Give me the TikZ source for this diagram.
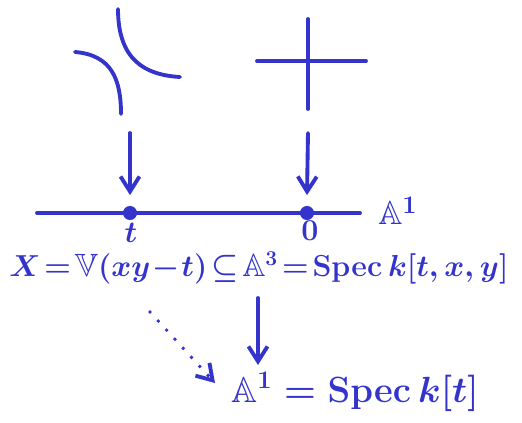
\documentclass[tikz,border=0pt]{standalone}
\usepackage{amssymb}
\usepackage{tikz}
\usetikzlibrary{arrows.meta,positioning}
\definecolor{inkblue}{RGB}{52,52,204}
\newcommand{\tightmath}{\thickmuskip=2mu\relax\medmuskip=1mu\relax}
\tikzset{
    ink/.style={
        draw=inkblue,line width=2.2pt,line cap=round,line join=round
    },
    ink text/.style={
        text=inkblue,inner sep=0pt,
        font=\fontsize{19}{22}\selectfont\boldmath
    },
    tight/.style={
        font=\fontsize{18.3}{21}\selectfont\boldmath
    },
    big/.style={
        font=\fontsize{20.5}{24}\selectfont\boldmath
    },
    ink dot/.style={
        circle,fill=inkblue,inner sep=0pt,minimum size=8pt
    },
    >={Straight Barb[length=3mm,width=3.8mm]}
}

\begin{document}
\begin{tikzpicture}[x=0.02cm,y=-0.02cm]
\useasboundingbox (0,0) rectangle (522,423);
% fibres over t and over 0
\draw[ink] (75,52) .. controls (112,55) and (121,80) .. (121,114);
\draw[ink] (118,9) .. controls (118,60) and (145,75) .. (180,77);
\draw[ink] (257,61) -- (366,61);
\draw[ink] (308,19) -- (308,109);
% the line A^1
\draw[ink] (37,213) -- (360,213);
\node[ink dot] (pt_t) at (130,213) {};
\node[ink dot] (pt_0) at (307,213) {};
\node[ink text] (lbl_t) at (131,233) {$t$};
\node[ink text] (lbl_0) at (310,231) {$0$};
\node[ink text] (line_A) at (398,211) {$\mathbb{A}^1$};
\coordinate (fib_t) at (130,133);
\coordinate (fib_0) at (308,133);
\foreach \f/\p in {fib_t/pt_t,fib_0/pt_0}
    \draw[ink,->] (\f) -- ([yshift=6pt]\p.north);
% the family and its base
\node[ink text,tight] (X) at (259,268) {$\tightmath X=\mathbb{V}(xy-t)\subseteq\mathbb{A}^3=\mathrm{Spec}\,k[t,x,y]$};
\node[ink text,big] (base) at (355,392) {$\mathbb{A}^1=\mathrm{Spec}\,k[t]$};
\coordinate (X_down) at (258,298);
\coordinate (base_up) at (258,365);
\draw[ink,->] (X_down) -- (base_up);
\coordinate (X_sw) at (150,312);
\coordinate (base_w) at (215,383);
\draw[ink,dash pattern=on 0pt off 7pt,->] (X_sw) -- (base_w);
\end{tikzpicture}
\end{document}
